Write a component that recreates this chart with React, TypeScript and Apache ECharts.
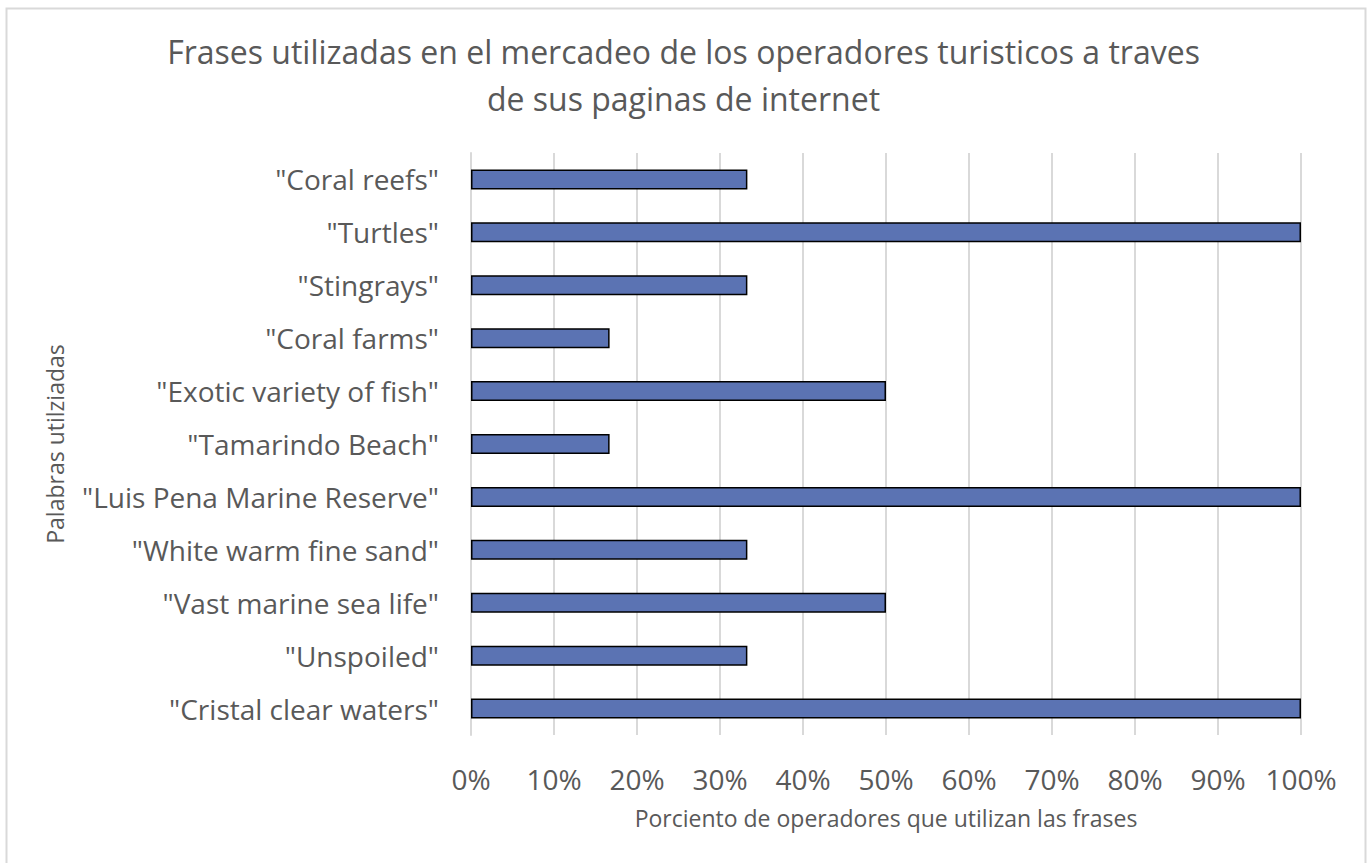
import React, { useEffect, useRef } from "react";
import * as echarts from "echarts";

const categories = [
  '"Coral reefs"',
  '"Turtles"',
  '"Stingrays"',
  '"Coral farms"',
  '"Exotic variety of fish"',
  '"Tamarindo Beach"',
  '"Luis Pena Marine Reserve"',
  '"White warm fine sand"',
  '"Vast marine sea life"',
  '"Unspoiled"',
  '"Cristal clear waters"',
];
const values = [0.333, 1, 0.333, 0.167, 0.5, 0.167, 1, 0.333, 0.5, 0.333, 1];

const titleText =
  "Frases utilizadas en el mercadeo de los operadores turisticos a traves\nde sus paginas de internet";
const xAxisName = "Porciento de operadores que utilizan las frases";
const yAxisName = "Palabras utilziadas";

const FONT = "'Open Sans', 'Noto Sans', sans-serif";

export default function App() {
  const ref = useRef<HTMLDivElement>(null);
  useEffect(() => {
    document.body.style.margin = "0";
    const chart = echarts.init(ref.current!, null, { renderer: "svg" });
    chart.setOption({
      animation: false,
      backgroundColor: "#ffffff",
      textStyle: { fontFamily: FONT },
      graphic: [
        {
          type: "rect",
          shape: { x: 6.5, y: 8.5, width: 1359, height: 900 },
          style: { fill: "none", stroke: "#d9d9d9", lineWidth: 2 },
          silent: true,
        },
      ],
      title: {
        text: titleText,
        left: "center",
        top: 23,
        textStyle: {
          fontFamily: FONT,
          fontSize: 32,
          fontWeight: "normal",
          color: "#595959",
          lineHeight: 47,
        },
      },
      grid: { left: 471, right: 66, top: 153, bottom: 128, containLabel: false },
      xAxis: {
        type: "value",
        min: 0,
        max: 1,
        interval: 0.1,
        name: xAxisName,
        nameLocation: "middle",
        nameGap: 71,
        nameTextStyle: { fontFamily: FONT, fontSize: 23, color: "#595959" },
        axisLine: { show: false },
        axisTick: { show: false },
        axisLabel: {
          fontFamily: FONT,
          fontSize: 28,
          color: "#595959",
          margin: 30,
          formatter: (v: number) => `${Math.round(v * 100)}%`,
        },
        splitLine: { show: true, lineStyle: { color: "#d9d9d9", width: 2 } },
      },
      yAxis: {
        type: "category",
        data: categories,
        inverse: true,
        name: yAxisName,
        nameLocation: "middle",
        nameGap: 405,
        nameRotate: 90,
        nameTextStyle: { fontFamily: FONT, fontSize: 23, color: "#595959" },
        axisLine: { show: true, lineStyle: { color: "#d9d9d9", width: 2 } },
        axisTick: { show: false },
        axisLabel: {
          fontFamily: FONT,
          fontSize: 28,
          color: "#595959",
          margin: 32,
        },
      },
      series: [
        {
          type: "bar",
          data: values,
          barWidth: 20,
          itemStyle: {
            color: "#5b73b3",
            borderColor: "#000000",
            borderWidth: 1.5,
          },
        },
      ],
    });
    return () => chart.dispose();
  }, []);
  return (
    <div
      ref={ref}
      style={{ position: "absolute", left: 0, top: 0, width: 1367, height: 863 }}
    />
  );
}
